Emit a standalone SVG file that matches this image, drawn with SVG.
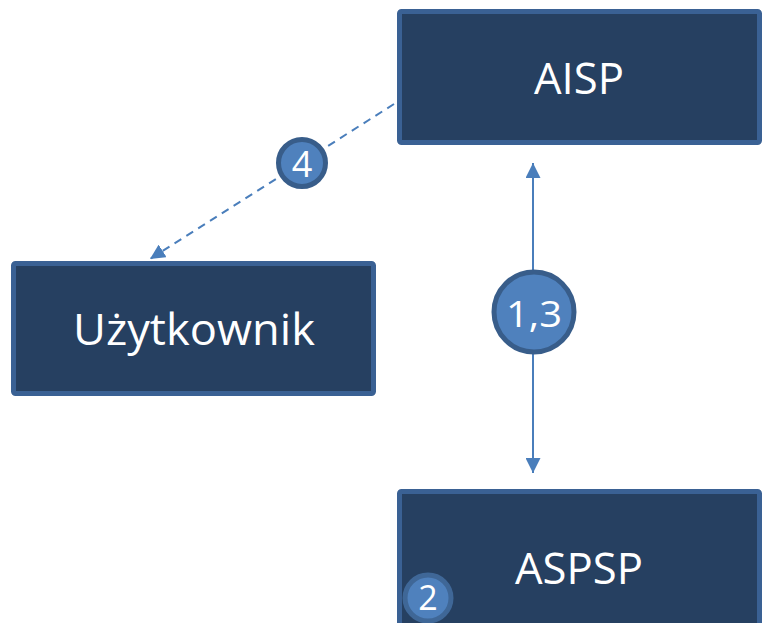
<svg xmlns="http://www.w3.org/2000/svg" width="762" height="623" viewBox="0 0 762 623">
<defs>
<style>
.box{fill:#264061;stroke:#3a6194;stroke-width:5}
.lbl{font-family:"Open Sans","Noto Sans","DejaVu Sans",sans-serif;fill:#ffffff;text-anchor:middle}
.num{fill:#4f81bd;stroke:#385d8a;stroke-width:5}
.conn{stroke:#4a7ebb;stroke-width:2;fill:none}
</style>
<marker id="ah" viewBox="0 0 10 10" refX="10" refY="5" markerWidth="7.5" markerHeight="7.5" orient="auto-start-reverse" markerUnits="strokeWidth">
<path d="M0,0 L10,5 L0,10 z" fill="#4a7ebb"/>
</marker>
</defs>
<rect width="762" height="623" fill="#ffffff"/>
<g id="connectors">
<line class="conn" x1="533" y1="163" x2="533" y2="473" marker-start="url(#ah)" marker-end="url(#ah)"/>
<line class="conn" x1="394" y1="104" x2="150" y2="259" stroke-dasharray="8,6" marker-end="url(#ah)"/>
</g>
<g id="aisp">
<rect class="box" x="399.5" y="11.5" width="360" height="131" rx="2"/>
<text class="lbl" x="579" y="94" font-size="43" textLength="90" lengthAdjust="spacingAndGlyphs">AISP</text>
</g>
<g id="uzytkownik">
<rect class="box" x="13.5" y="263.5" width="360" height="130" rx="2"/>
<text class="lbl" x="194" y="345" font-size="43" textLength="242" lengthAdjust="spacingAndGlyphs">Użytkownik</text>
</g>
<g id="aspsp">
<rect class="box" x="399.5" y="491.5" width="360" height="140" rx="2"/>
<text class="lbl" x="579" y="584" font-size="43" textLength="128" lengthAdjust="spacingAndGlyphs">ASPSP</text>
</g>
<g id="badge13">
<circle class="num" cx="534" cy="312" r="40"/>
<text class="lbl" x="534" y="327" font-size="36" textLength="56" lengthAdjust="spacingAndGlyphs">1,3</text>
</g>
<g id="badge4">
<circle class="num" cx="302" cy="163" r="23.5"/>
<text class="lbl" x="302" y="177" font-size="36">4</text>
</g>
<g id="badge2">
<circle cx="428" cy="598" r="23" fill="#4f81bd" stroke="#3f6797" stroke-width="5"/>
<text class="lbl" x="428" y="610" font-size="34">2</text>
</g>
</svg>
